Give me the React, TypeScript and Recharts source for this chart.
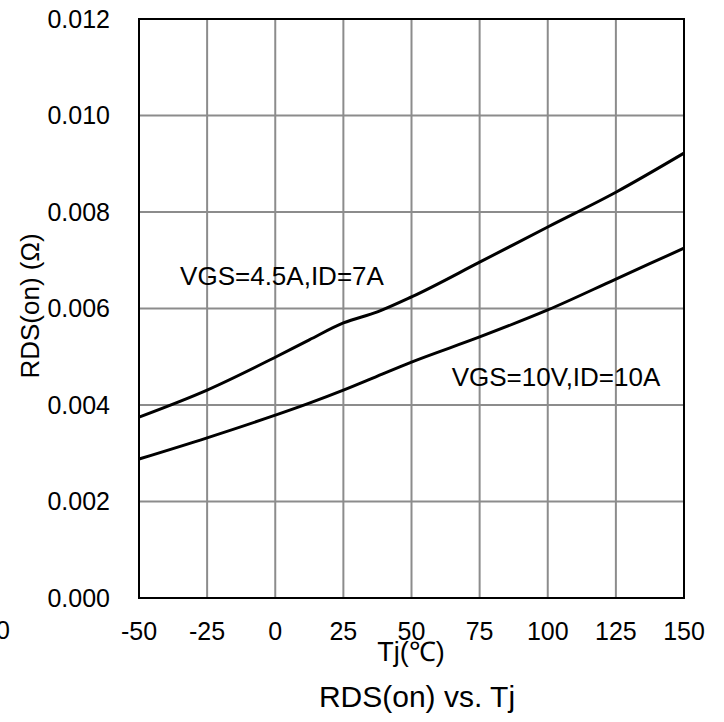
import React from "react";
import {
  LineChart,
  Line,
  XAxis,
  YAxis,
  CartesianGrid,
  ReferenceArea,
} from "recharts";

// junction temperature, degC
const temps = [-50, -25, 0, 12.5, 25, 37.5, 50, 75, 100, 125, 150];
// RDS(on) in ohm
const rdsVgs45 = [
  0.00375, 0.00431, 0.00499, 0.00535, 0.0057, 0.00593, 0.00624, 0.00696,
  0.00769, 0.00841, 0.00922,
];
const rdsVgs10 = [
  0.00288, 0.00332, 0.00379, 0.00404, 0.00431, 0.0046, 0.00489, 0.00541,
  0.00597, 0.00661, 0.00725,
];
const xTicks = [-50, -25, 0, 25, 50, 75, 100, 125, 150];
const yTicks = [0, 0.002, 0.004, 0.006, 0.008, 0.01, 0.012];

const data = temps.map((t, i) => ({
  t,
  vgs45: rdsVgs45[i],
  vgs10: rdsVgs10[i],
}));

const font = "'Liberation Sans', Arial, sans-serif";

export default function App() {
  return (
    <div style={{ position: "absolute", left: 0, top: 0, fontFamily: font }}>
      <LineChart
        width={724}
        height={722}
        data={data}
        margin={{ top: 19, right: 40, left: 0, bottom: 0 }}
      >
        <CartesianGrid stroke="#8c8c8c" strokeWidth={2} />
        <XAxis
          dataKey="t"
          type="number"
          domain={[-50, 150]}
          ticks={xTicks}
          height={124}
          tickLine={false}
          axisLine={false}
          tickSize={0}
          tickMargin={24}
          interval={0}
          tick={{ fill: "#000", fontSize: 25, fontFamily: font }}
        />
        <YAxis
          type="number"
          domain={[0, 0.012]}
          ticks={yTicks}
          width={139}
          tickLine={false}
          axisLine={false}
          tickSize={0}
          tickMargin={29}
          interval={0}
          tickFormatter={(v: number) => v.toFixed(3)}
          tick={{ fill: "#000", fontSize: 25, fontFamily: font }}
        />
        <ReferenceArea
          x1={-50}
          x2={150}
          y1={0}
          y2={0.012}
          fill="none"
          fillOpacity={0}
          stroke="#000"
          strokeWidth={2}
          ifOverflow="visible"
        />
        <Line
          type="monotone"
          dataKey="vgs45"
          stroke="#000"
          strokeWidth={3}
          dot={false}
          isAnimationActive={false}
        />
        <Line
          type="monotone"
          dataKey="vgs10"
          stroke="#000"
          strokeWidth={3}
          dot={false}
          isAnimationActive={false}
        />
        <text x={282} y={276} dy="0.355em" textAnchor="middle" fontSize={26} fontFamily={font} fill="#000">
          VGS=4.5A,ID=7A
        </text>
        <text x={556} y={377} dy="0.355em" textAnchor="middle" fontSize={26} fontFamily={font} fill="#000">
          VGS=10V,ID=10A
        </text>
        <text x={10} y={630} dy="0.355em" textAnchor="end" fontSize={25} fontFamily={font} fill="#000">
          0
        </text>
        <text x={411} y={651} dy="0.355em" textAnchor="middle" fontSize={27} fontFamily={font} fill="#000">
          Tj(℃)
        </text>
        <text
          x={30}
          y={306}
          dy="0.355em"
          textAnchor="middle"
          fontSize={26}
          fontFamily={font}
          fill="#000"
          transform="rotate(-90 30 306)"
        >
          RDS(on) (Ω)
        </text>
        <text x={417} y={696} dy="0.355em" textAnchor="middle" fontSize={30} fontFamily={font} fill="#000">
          RDS(on) vs. Tj
        </text>
      </LineChart>
    </div>
  );
}
